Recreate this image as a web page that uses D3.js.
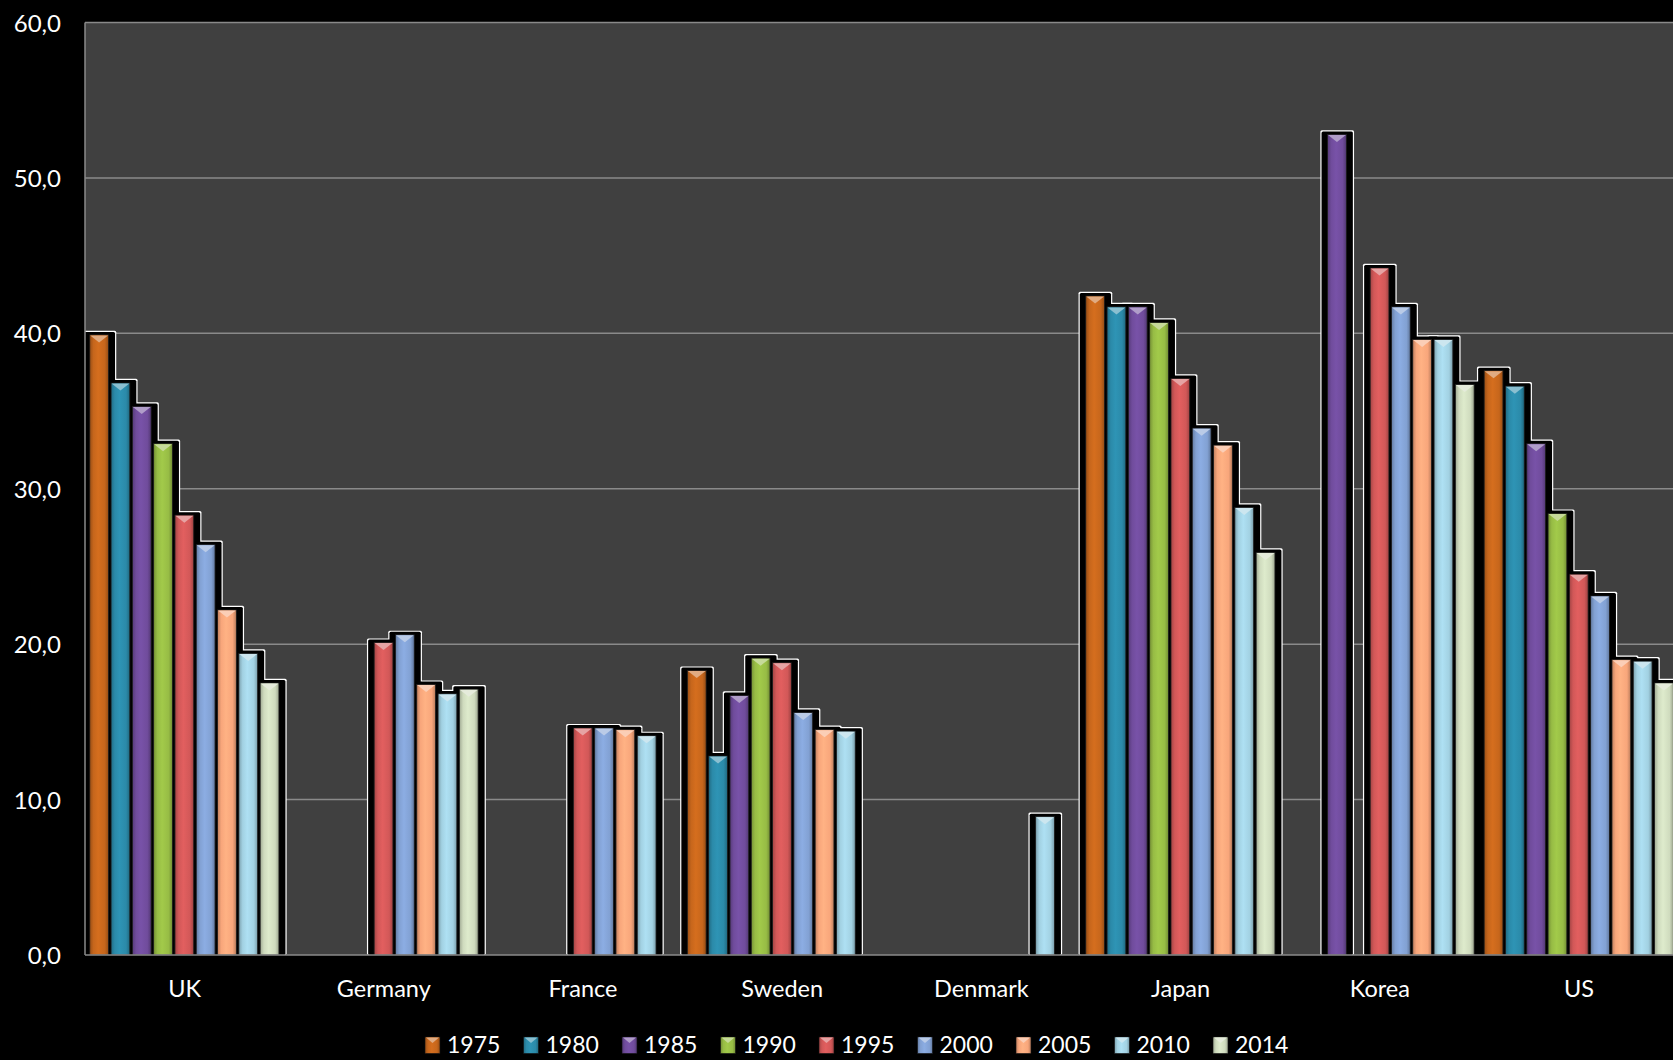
<!DOCTYPE html>
<html><head><meta charset="utf-8">
<script src="https://cdn.jsdelivr.net/npm/d3@7"></script>
<style>html,body{margin:0;padding:0;background:#000;overflow:hidden}</style>
</head><body><svg id="c" width="1673" height="1060"></svg>
<script>
// ---- data ----
const categories = ["UK","Germany","France","Sweden","Denmark","Japan","Korea","US"];
const years = ["1975","1980","1985","1990","1995","2000","2005","2010","2014"];
const v1975 = [39.9, null, null, 18.3, null, 42.4, null, 37.6];
const v1980 = [36.8, null, null, 12.8, null, 41.7, null, 36.6];
const v1985 = [35.3, null, null, 16.7, null, 41.7, 52.8, 32.9];
const v1990 = [32.9, null, null, 19.1, null, 40.7, null, 28.4];
const v1995 = [28.3, 20.1, 14.6, 18.8, null, 37.1, 44.2, 24.5];
const v2000 = [26.4, 20.6, 14.6, 15.6, null, 33.9, 41.7, 23.1];
const v2005 = [22.2, 17.4, 14.5, 14.5, null, 32.8, 39.6, 19.0];
const v2010 = [19.4, 16.8, 14.1, 14.4, 8.9, 28.8, 39.6, 18.9];
const v2014 = [17.5, 17.1, null, null, null, 25.9, 36.7, 17.5];
const seriesValues = [v1975, v1980, v1985, v1990, v1995, v2000, v2005, v2010, v2014];
const yTicks = [0, 10, 20, 30, 40, 50, 60];
const colors = ["#c6661c","#2b8aa9","#704c9c","#97bc45","#d25858","#82a1d3","#f8a67b","#a2d1e2","#cfdbbe"];

// ---- layout ----
const svg = d3.select("#c");
const L = 85, T = 22.5, B = 955, R = 1678.6;
const y = d3.scaleLinear().domain([0, 60]).range([B, T]);
const x0 = d3.scaleBand().domain(categories).range([L, R]).padding(0);
const x1 = d3.scaleBand().domain(years).range([0, x0.bandwidth()]).paddingInner(0).paddingOuter(0.176);

const defs = svg.append("defs");
colors.forEach((c, i) => {
  const base = d3.color(c);
  const g = defs.append("linearGradient").attr("id", "g" + i).attr("x1", "0").attr("x2", "1").attr("y1", "0").attr("y2", "0");
  g.append("stop").attr("offset", "0%").attr("stop-color", base.darker(0.7));
  g.append("stop").attr("offset", "20%").attr("stop-color", base);
  g.append("stop").attr("offset", "45%").attr("stop-color", base.brighter(0.2));
  g.append("stop").attr("offset", "80%").attr("stop-color", base);
  g.append("stop").attr("offset", "100%").attr("stop-color", base.darker(0.8));
});
defs.append("clipPath").attr("id", "clip").append("rect").attr("x", L).attr("y", 0).attr("width", 1673 - L).attr("height", B);

svg.append("rect").attr("x", 0).attr("y", 0).attr("width", 1673).attr("height", 1060).attr("fill", "#000");
svg.append("rect").attr("x", L).attr("y", T).attr("width", R - L).attr("height", B - T).attr("fill", "#404040");

// gridlines
svg.append("g").selectAll("line").data(yTicks.filter(d => d > 0)).join("line")
  .attr("x1", L).attr("x2", R).attr("y1", d => y(d)).attr("y2", d => y(d))
  .attr("stroke", "#8a8a8a").attr("stroke-width", 1.5);

// bars
const bars = [];
categories.forEach((c, ci) => {
  years.forEach((yr, yi) => {
    const v = seriesValues[yi][ci];
    if (v != null) bars.push({c, yr, yi, v});
  });
});
const bx = d => x0(d.c) + x1(d.yr);
const bw = x1.bandwidth();
const plotG = svg.append("g").attr("clip-path", "url(#clip)");
plotG.append("g").selectAll("rect").data(bars).join("rect")
  .attr("x", d => bx(d) - 6.2).attr("y", d => y(d.v) - 4.2)
  .attr("width", bw + 12.4).attr("height", d => B - y(d.v) + 4.2).attr("fill", "#fff").attr("rx", 1.5);
plotG.append("g").selectAll("rect").data(bars).join("rect")
  .attr("x", d => bx(d) - 5).attr("y", d => y(d.v) - 3)
  .attr("width", bw + 10).attr("height", d => B - y(d.v) + 3).attr("fill", "#000").attr("rx", 1.5);
plotG.append("g").selectAll("rect").data(bars).join("rect")
  .attr("x", d => bx(d) + 1).attr("y", d => y(d.v))
  .attr("width", bw - 2.5).attr("height", d => B - y(d.v))
  .attr("fill", d => `url(#g${d.yi})`).attr("stroke", "#1c1c1c").attr("stroke-width", 0.8);
plotG.append("g").selectAll("path").data(bars).join("path")
  .attr("d", d => {
    const fx = bx(d) + 1.5, fw = bw - 3.5, t = y(d.v) + 0.5;
    return `M${fx},${t}L${fx + fw},${t}L${fx + fw / 2},${t + 7}Z`;
  })
  .attr("fill", d => d3.interpolateRgb(colors[d.yi], "#fff")(0.45));

// axis lines
svg.append("line").attr("x1", L).attr("x2", L).attr("y1", T).attr("y2", B).attr("stroke", "#8a8a8a").attr("stroke-width", 1.5);
svg.append("line").attr("x1", L).attr("x2", R).attr("y1", B).attr("y2", B).attr("stroke", "#8a8a8a").attr("stroke-width", 1.5);

// y axis
const yAxis = svg.append("g").attr("transform", `translate(${L},0)`)
  .call(d3.axisLeft(y).tickValues(yTicks).tickSize(0).tickPadding(24)
    .tickFormat(d => d3.format(".1f")(d).replace(".", ",")));
yAxis.select(".domain").remove();
yAxis.selectAll("text").attr("fill", "#fff").attr("font-family", "Lato, 'Open Sans', sans-serif")
  .attr("font-size", 24).attr("dy", "0.36em");

// x axis
const xAxis = svg.append("g").attr("transform", `translate(0,${B})`)
  .call(d3.axisBottom(x0).tickSize(0).tickPadding(25));
xAxis.select(".domain").remove();
xAxis.selectAll("text").attr("fill", "#fff").attr("font-family", "Lato, 'Open Sans', sans-serif")
  .attr("font-size", 23.5);

// legend
const lg = svg.append("g").selectAll("g").data(years).join("g")
  .attr("transform", (d, i) => `translate(${425 + i * 98.5},0)`);
lg.append("rect").attr("x", 0).attr("y", 1037).attr("width", 15).attr("height", 16.5)
  .attr("fill", (d, i) => `url(#g${i})`).attr("stroke", "#111").attr("stroke-width", 0.6);
lg.append("path").attr("d", "M1,1037.5L14,1037.5L7.5,1043Z")
  .attr("fill", (d, i) => d3.interpolateRgb(colors[i], "#fff")(0.45));
lg.append("text").attr("x", 22).attr("y", 1053).text(d => d)
  .attr("fill", "#fff").attr("font-family", "Lato, 'Open Sans', sans-serif").attr("font-size", 23);
</script></body></html>
